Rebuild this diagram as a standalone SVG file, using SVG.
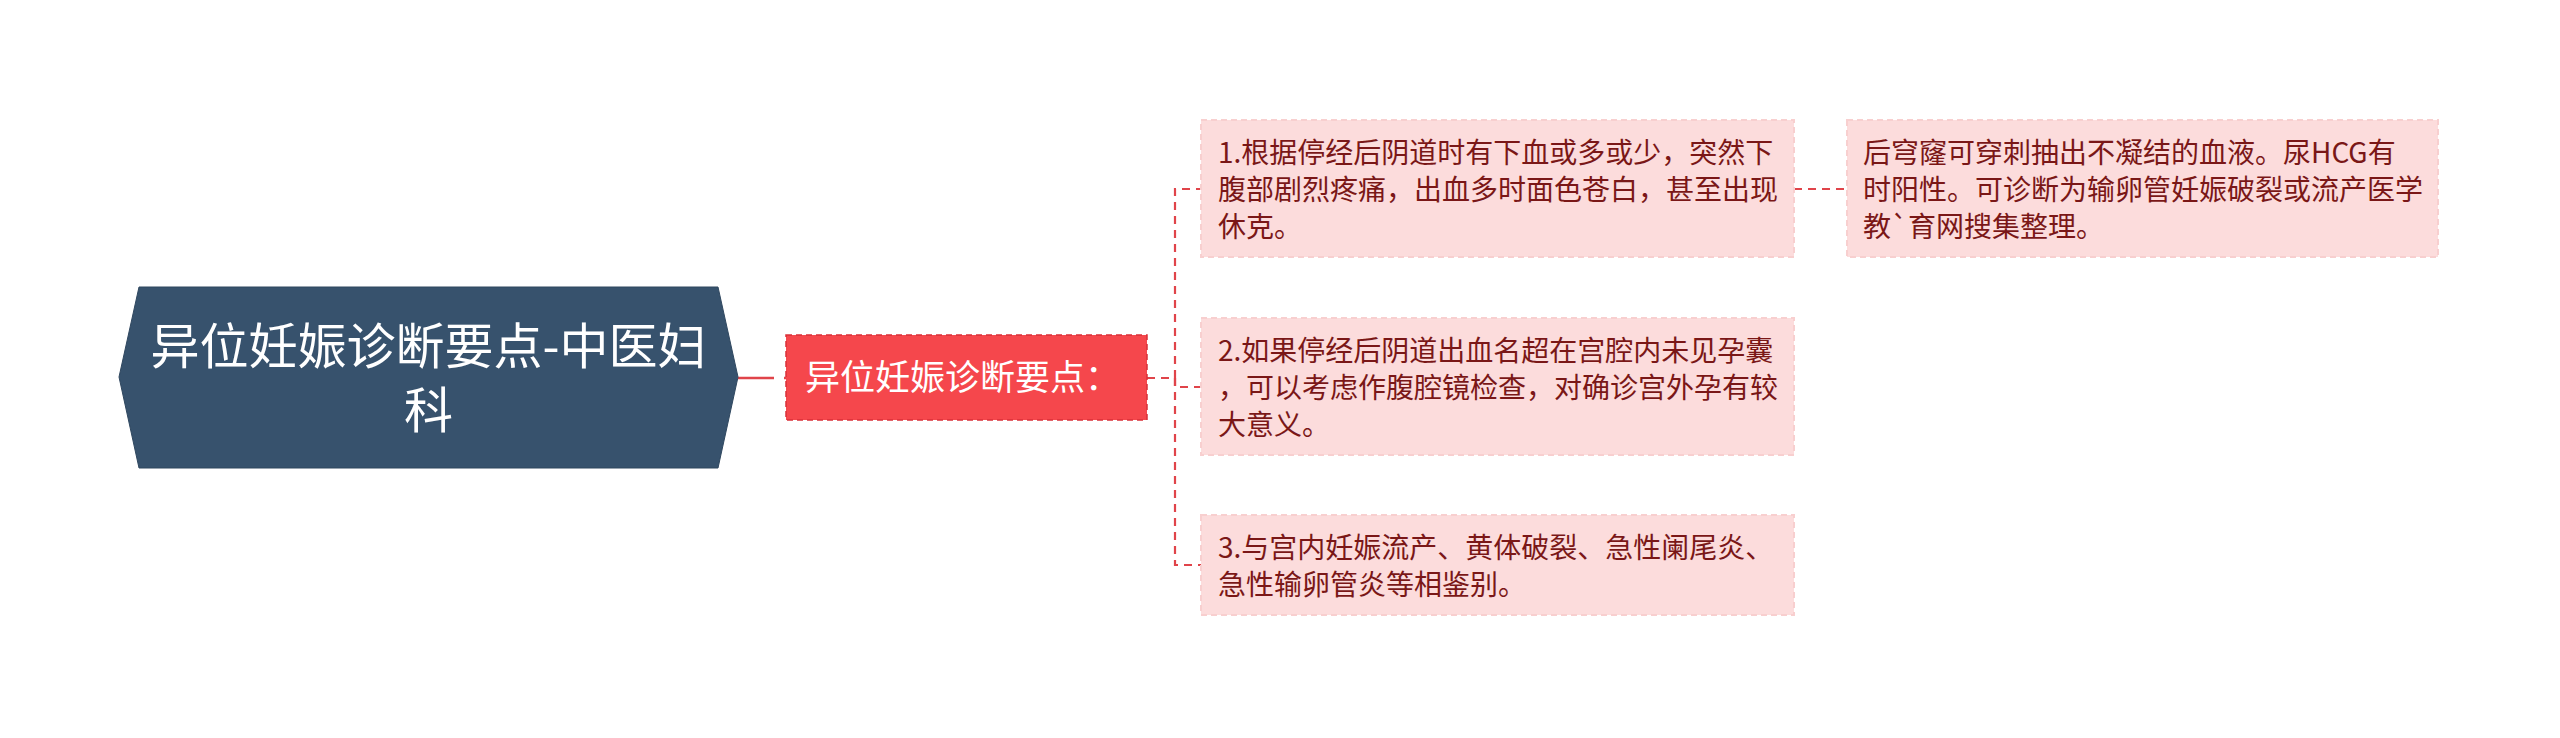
<svg xmlns="http://www.w3.org/2000/svg" width="2560" height="738" viewBox="0 0 2560 738">
<style>
.bg{fill:#ffffff}
.link{fill:none;stroke:#e0444a;stroke-width:2.2;stroke-dasharray:8 6}
.rootlink{fill:none;stroke:#e0444a;stroke-width:2.5;stroke-dasharray:36 10}
.root{fill:#37526d;stroke:#2f475f;stroke-width:1}
.sub{fill:#f5474c;stroke:#d93038;stroke-width:1.5;stroke-dasharray:6 4}
.leaf{fill:#fcdcdc;stroke:#f8cfcf;stroke-width:2;stroke-dasharray:6 4}
.t{font-family:"Noto Sans CJK SC","Noto Sans",sans-serif}
.rt{fill:#ffffff;font-size:49px}
.st{fill:#ffffff;font-size:35px}
.lt{fill:#7a1717;font-size:28px}
</style>
<rect class="bg" x="0" y="0" width="2560" height="738"/>
<g id="connectors">
<path class="rootlink" d="M738 378 H786"/>
<path class="link" d="M1147 378 H1175 V189 H1201"/>
<path class="link" d="M1147 378 H1175 V387 H1201"/>
<path class="link" d="M1147 378 H1175 V565 H1201"/>
<path class="link" d="M1794 189 H1847"/>
</g>
<g id="root">
<polygon class="root" points="119,377 139,287 718,287 738,377 718,468 139,468"/>
<text class="t rt" x="428.5" y="364" text-anchor="middle">异位妊娠诊断要点-中医妇</text>
<text class="t rt" x="428.5" y="428" text-anchor="middle">科</text>
</g>
<g id="sub">
<rect class="sub" x="786" y="335" width="361" height="85"/>
<text class="t st" x="805" y="390">异位妊娠诊断要点：</text>
</g>
<g id="leaf1">
<rect class="leaf" x="1201" y="120" width="593" height="137"/>
<text class="t lt" x="1218" y="163">1.根据停经后阴道时有下血或多或少，突然下</text>
<text class="t lt" x="1218" y="200">腹部剧烈疼痛，出血多时面色苍白，甚至出现</text>
<text class="t lt" x="1218" y="237">休克。</text>
</g>
<g id="leaf2">
<rect class="leaf" x="1201" y="318" width="593" height="137"/>
<text class="t lt" x="1218" y="361">2.如果停经后阴道出血名超在宫腔内未见孕囊</text>
<text class="t lt" x="1218" y="398">，可以考虑作腹腔镜检查，对确诊宫外孕有较</text>
<text class="t lt" x="1218" y="435">大意义。</text>
</g>
<g id="leaf3">
<rect class="leaf" x="1201" y="515" width="593" height="100"/>
<text class="t lt" x="1218" y="558">3.与宫内妊娠流产、黄体破裂、急性阑尾炎、</text>
<text class="t lt" x="1218" y="595">急性输卵管炎等相鉴别。</text>
</g>
<g id="leaf4">
<rect class="leaf" x="1847" y="120" width="591" height="137"/>
<text class="t lt" x="1863" y="163">后穹窿可穿刺抽出不凝结的血液。尿HCG有</text>
<text class="t lt" x="1863" y="200">时阳性。可诊断为输卵管妊娠破裂或流产医学</text>
<text class="t lt" x="1863" y="237">教`育网搜集整理。</text>
</g>
</svg>
